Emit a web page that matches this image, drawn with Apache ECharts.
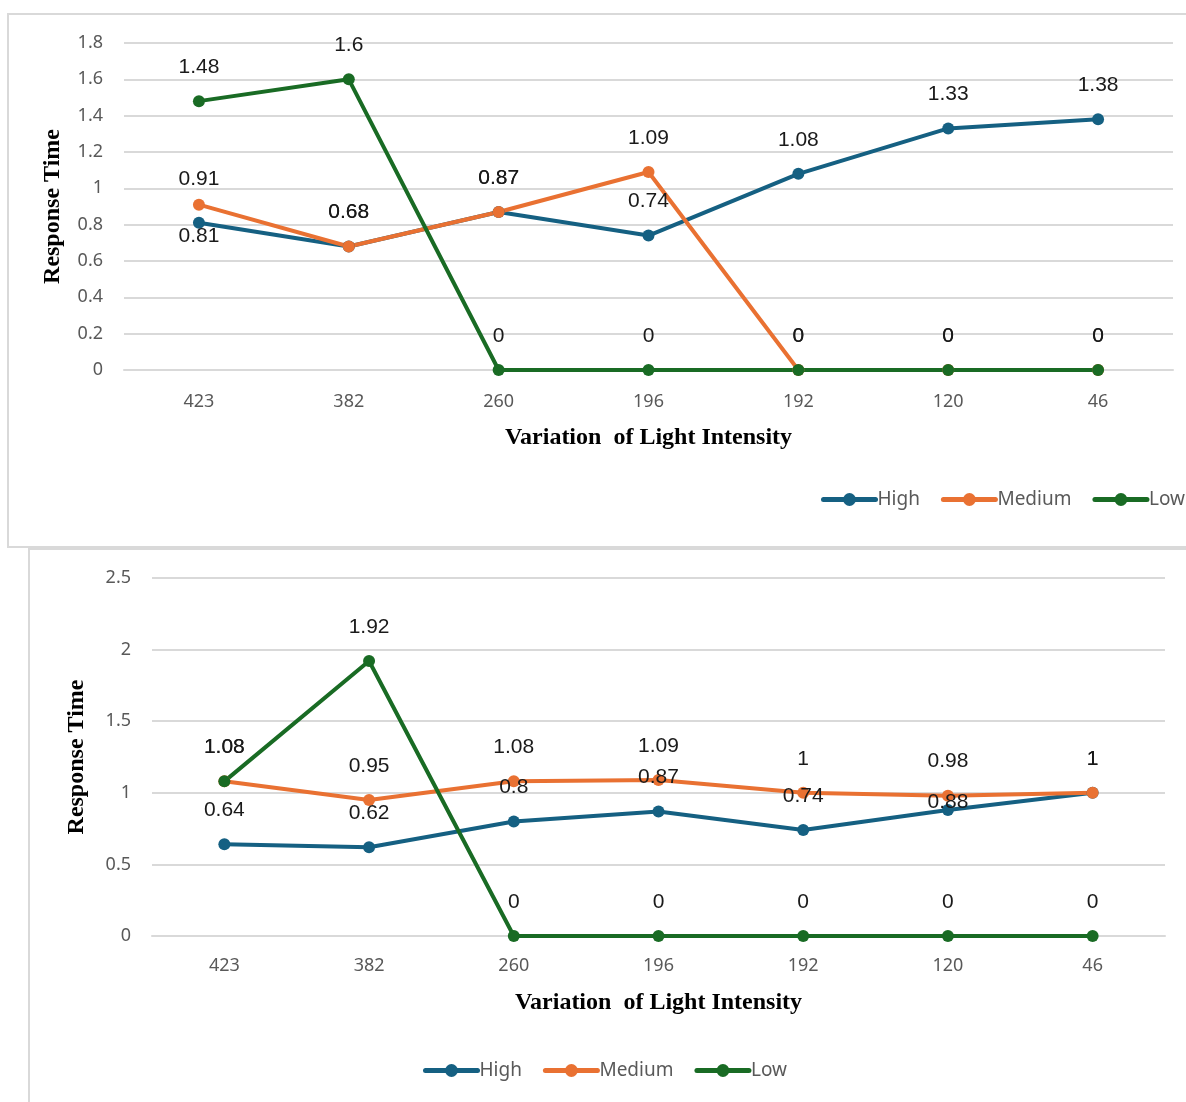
<!DOCTYPE html>
<html>
<head>
<meta charset="utf-8">
<script src="https://cdn.jsdelivr.net/npm/echarts@6/dist/echarts.min.js"></script>
<style>
  html, body { margin: 0; padding: 0; background: #fff; overflow: hidden; }
  .frame { position: absolute; border: 2px solid #d9d9d9; box-sizing: border-box; background: #fff; }
  #chart { position: absolute; left: 0; top: 0; width: 1186px; height: 1102px; }
</style>
</head>
<body>
<div class="frame" style="left:7px; top:13px; width:1300px; height:535px;"></div>
<div class="frame" style="left:28px; top:548px; width:1300px; height:700px;"></div>
<div id="chart"></div>
<script>
// Light intensity levels (x axis)
const categories = ['423', '382', '260', '196', '192', '120', '46'];

// Upper panel: response time per light intensity
const topHigh   = [0.81, 0.68, 0.87, 0.74, 1.08, 1.33, 1.38];
const topMedium = [0.91, 0.68, 0.87, 1.09, 0, 0, 0];
const topLow    = [1.48, 1.6, 0, 0, 0, 0, 0];

// Lower panel: response time per light intensity
const botHigh   = [0.64, 0.62, 0.8, 0.87, 0.74, 0.88, 1];
const botMedium = [1.08, 0.95, 1.08, 1.09, 1, 0.98, 1];
const botLow    = [1.08, 1.92, 0, 0, 0, 0, 0];

const seriesNames = ['High', 'Medium', 'Low'];
const colors = ['#156082', '#E97132', '#196B24'];

const labelFont = '"Liberation Sans", Arial, sans-serif';
const axisFont = '"Noto Sans", sans-serif';
const titleFont = '"Liberation Serif", "Times New Roman", serif';

// Per-point label offsets where the default (above the point) is shifted
const labelShift = {
  'top-High': { 0: [0, 13] },
  'top-Medium': { 0: [0, -25] },
  'bot-High': { 5: [0, -8] }
};

function makeData(values, key) {
  const shifts = labelShift[key] || {};
  return values.map((v, i) => {
    const item = { value: v };
    if (shifts[i]) item.label = { offset: shifts[i] };
    return item;
  });
}

function makeSeries(values, idx, axisIdx, key) {
  return {
    name: seriesNames[idx],
    type: 'line',
    xAxisIndex: axisIdx,
    yAxisIndex: axisIdx,
    data: makeData(values, key + '-' + seriesNames[idx]),
    color: colors[idx],
    symbol: 'circle',
    symbolSize: 12,
    lineStyle: { width: 4, color: colors[idx] },
    itemStyle: { color: colors[idx] },
    animation: false,
    label: {
      show: true,
      position: 'inside',
      offset: [0, -34],
      fontFamily: labelFont,
      fontSize: 21,
      color: '#1a1a1a'
    },
    emphasis: { disabled: true }
  };
}

function xAxisCfg(gridIndex, nameGap, labelMargin) {
  return {
    type: 'category',
    gridIndex: gridIndex,
    data: categories,
    boundaryGap: true,
    axisTick: { show: false },
    axisLine: { show: true, lineStyle: { color: '#d9d9d9', width: 2 } },
    axisLabel: { fontFamily: axisFont, fontSize: 18, color: '#595959', margin: labelMargin },
    name: 'Variation  of Light Intensity',
    nameLocation: 'middle',
    nameGap: nameGap,
    nameTextStyle: { fontFamily: titleFont, fontWeight: 'bold', fontSize: 24, color: '#000' }
  };
}

function yAxisCfg(gridIndex, max, interval, nameGap) {
  return {
    type: 'value',
    gridIndex: gridIndex,
    min: 0,
    max: max,
    interval: interval,
    axisLine: { show: false },
    axisTick: { show: false },
    axisLabel: {
      fontFamily: axisFont, fontSize: 18, color: '#595959', margin: 21,
      formatter: v => String(+v.toFixed(1))
    },
    splitLine: { lineStyle: { color: '#d9d9d9', width: 2 } },
    name: 'Response Time',
    nameLocation: 'middle',
    nameRotate: 90,
    nameGap: nameGap,
    nameTextStyle: { fontFamily: titleFont, fontWeight: 'bold', fontSize: 24, color: '#000' }
  };
}

function legendCfg(left, top) {
  return {
    left: left,
    top: top,
    width: 600,
    itemWidth: 52,
    itemHeight: 16,
    itemGap: 21,
    data: seriesNames,
    lineStyle: { width: 5, cap: 'round' },
    textStyle: { fontFamily: axisFont, fontSize: 19, color: '#595959', padding: [0, 0, 0, -3] },
    selectedMode: false
  };
}

const chart = echarts.init(document.getElementById('chart'), null, { renderer: 'canvas' });

chart.setOption({
  backgroundColor: 'transparent',
  animation: false,
  grid: [
    { left: 124, top: 43, width: 1049, height: 327 },
    { left: 152, top: 578, width: 1013, height: 358 }
  ],
  xAxis: [xAxisCfg(0, 56, 23), xAxisCfg(1, 55, 21)],
  yAxis: [yAxisCfg(0, 1.8, 0.2, 59), yAxisCfg(1, 2.5, 0.5, 63)],
  legend: [legendCfg(816, 485), legendCfg(418, 1056)],
  series: [
    makeSeries(topHigh, 0, 0, 'top'),
    makeSeries(topMedium, 1, 0, 'top'),
    makeSeries(topLow, 2, 0, 'top'),
    makeSeries(botHigh, 0, 1, 'bot'),
    makeSeries(botMedium, 1, 1, 'bot'),
    makeSeries(botLow, 2, 1, 'bot')
  ]
});
</script>
</body>
</html>
